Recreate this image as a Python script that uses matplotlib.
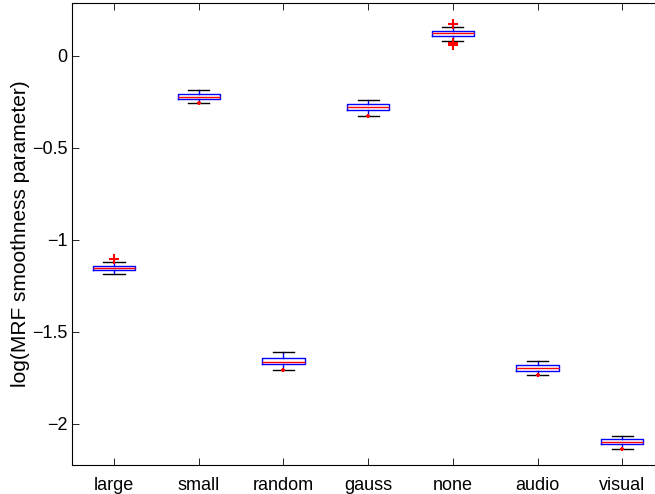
import matplotlib
matplotlib.use("Agg")
import matplotlib.pyplot as plt

plt.rcParams['font.family'] = ['Liberation Sans', 'DejaVu Sans']

categories = ["large", "small", "random", "gauss", "none", "audio", "visual"]
medians = [-1.152, -0.221, -1.663, -0.275, 0.123, -1.694, -2.096]
q1 = [-1.165, -0.235, -1.676, -0.293, 0.110, -1.712, -2.110]
q3 = [-1.141, -0.207, -1.643, -0.263, 0.1375, -1.679, -2.083]
whisker_low = [-1.183, -0.257, -1.707, -0.326, 0.083, -1.734, -2.136]
whisker_high = [-1.120, -0.183, -1.609, -0.239, 0.159, -1.658, -2.065]
outliers = [[-1.103], [-0.258], [-1.708], [-0.327], [0.175, 0.068, 0.060], [-1.735], [-2.137]]

y_ticks = [-2, -1.5, -1, -0.5, 0]
y_tick_labels = ["\u22122", "\u22121.5", "\u22121", "\u22120.5", "0"]

# marker size for each group's outliers (points near a cap render as small dots)
flier_sizes = [7.5, 3, 3, 3, 7.5, 3, 3]

stats = []
for name, m, lo, hi, wl, wh, fl in zip(categories, medians, q1, q3,
                                       whisker_low, whisker_high, outliers):
    stats.append(dict(label=name, med=m, q1=lo, q3=hi,
                      whislo=wl, whishi=wh, fliers=fl))

fig = plt.figure(figsize=(6.55, 4.94), dpi=100)
W, H = 655, 494
left, right, top, bottom = 71.7, 664.6, 3.0, 465.0
ax = fig.add_axes([left / W, 1 - bottom / H, (right - left) / W, (bottom - top) / H])

positions = list(range(1, len(categories) + 1))
parts = ax.bxp(stats, positions=positions, widths=0.5, showfliers=True,
               boxprops=dict(color="#0000ff", linewidth=1.0),
               medianprops=dict(color="#ff0000", linewidth=1.0),
               whiskerprops=dict(color="#0000ff", linewidth=1.0, linestyle="-"),
               capprops=dict(color="black", linewidth=1.0),
               capwidths=0.25,
               flierprops=dict(marker="+", markeredgecolor="#ff0000",
                               markersize=7.5, markeredgewidth=1.5, linestyle="none"))
for fl, size in zip(parts["fliers"], flier_sizes):
    fl.set_markersize(size)
    fl.set_zorder(3)

ax.set_xlim(0.5, 7.5)
ax.set_ylim(-2.223, 0.288)
ax.set_xticks(positions)
ax.set_xticklabels(categories)
ax.set_yticks(y_ticks)
ax.set_yticklabels(y_tick_labels)
ax.tick_params(direction="in", length=5, width=0.6, labelsize=13,
               top=True, right=True)
ax.tick_params(axis="y", pad=3.2)
ax.tick_params(axis="x", pad=9)
for s in ax.spines.values():
    s.set_linewidth(0.8)
ax.set_ylabel("log(MRF smoothness parameter)", fontsize=15, labelpad=1.5)

fig.savefig("out.png", dpi=100)
